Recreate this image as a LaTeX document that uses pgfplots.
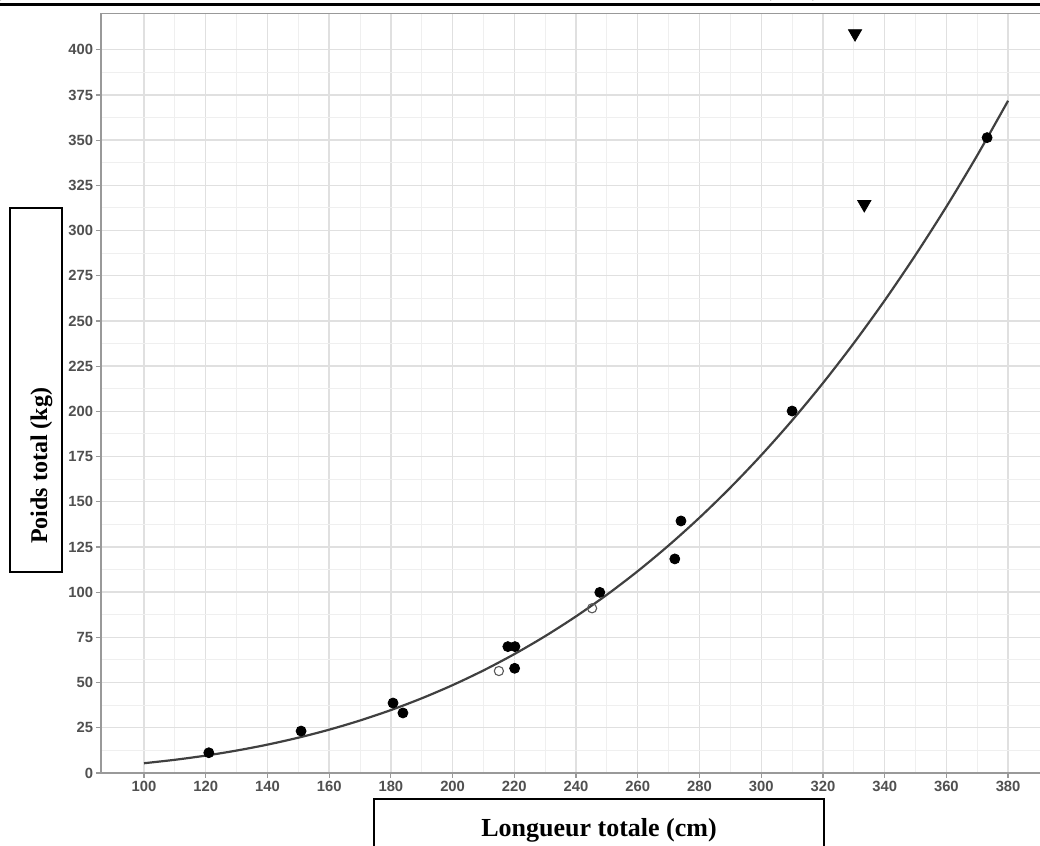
\documentclass[border=0pt]{standalone}
\usepackage{pgfplots}
\pgfplotsset{compat=1.18}
\usepackage{fontspec}
\setmainfont{Liberation Serif}
\newfontfamily\ticksfont{Liberation Sans}
\definecolor{tickgray}{HTML}{505050}
\definecolor{axgray}{HTML}{999999}
\definecolor{majgrid}{HTML}{E0E0E0}
\definecolor{mingrid}{HTML}{EFEFEF}
\definecolor{curvecol}{HTML}{404040}
\begin{document}
\begin{tikzpicture}
\clip (0,0) rectangle (520pt,423pt);
\begin{axis}[
  at={(50.4pt,36.5pt)}, anchor=south west,
  scale only axis, width=475.25pt, height=379.7pt,
  xmin=86, xmax=394, ymin=0, ymax=420,
  xtick={100,120,...,380}, ytick={0,25,...,400},
  minor x tick num=1, minor y tick num=1,
  grid=both,
  major grid style={majgrid, line width=0.7pt},
  minor grid style={mingrid, line width=0.5pt},
  axis line style={axgray, line width=0.9pt},
  tick style={axgray, line width=0.6pt},
  minor tick length=0pt,
  major tick length=2.5pt,
  tick align=outside,
  xtick pos=bottom, ytick pos=left,
  /pgf/number format/assume math mode=true,
  /pgf/number format/1000 sep={},
  ticklabel style={font=\ticksfont\bfseries\fontsize{7.4}{8}\selectfont, text=tickgray},
  xticklabel style={yshift=1.8pt},
  yticklabel style={xshift=2.2pt},
  clip=false,
]
\addplot[curvecol, line width=1.1pt, smooth] coordinates {
(100,5.40) (110,7.30) (120,9.62) (130,12.41) (140,15.69) (150,19.53)
(160,23.96) (170,29.04) (180,34.80) (190,41.31) (200,48.60) (210,56.73)
(220,65.75) (230,75.70) (240,86.64) (250,98.60) (260,111.65) (270,125.85)
(280,141.22) (290,157.84) (300,175.74) (310,194.99) (320,215.64) (330,237.74)
(340,261.33) (350,286.5) (360,313.2) (370,341.6) (380,371.8)};
\addplot[only marks, mark=*, mark size=2.5pt, black] coordinates {
(121,11.2) (150.9,23.2) (180.7,38.7) (183.9,33.2) (217.9,69.9) (220.2,69.9)
(220.1,57.9) (247.7,99.9) (272,118.4) (274,139.4) (310,200.2) (373.2,351.4)};
\addplot[only marks, mark=o, mark size=2.3pt, black!65, mark options={line width=0.55pt}] coordinates {
(215,56.4) (245.2,91.1)};
\addplot[only marks, mark=triangle*, mark size=3.8pt, black, mark options={rotate=180}] coordinates {
(330.4,409) (333.4,314.5)};
\end{axis}
% top rule
\draw[black, line width=1.5pt] (0,420.5pt) -- (520pt,420.5pt);
\node[anchor=base, inner sep=0pt, font=\fontsize{13}{15}\selectfont] at (2pt,425pt) {)};
\node[anchor=base, inner sep=0pt, font=\fontsize{13}{15}\selectfont] at (396pt,425pt) {(\hspace{20pt})};
% y label box
\draw[black, line width=1pt] (5pt,137pt) rectangle (31pt,319pt);
\node[rotate=90, anchor=base, inner sep=0pt, font=\bfseries\fontsize{12}{14}\selectfont] at (23.5pt,190pt) {Poids total (kg)};
% x label box
\draw[black, line width=1pt] (187pt,-7pt) rectangle (412pt,23.5pt);
\node[anchor=base, inner sep=0pt, font=\bfseries\fontsize{13}{15}\selectfont] at (299.5pt,4.65pt) {Longueur totale (cm)};
\end{tikzpicture}
\end{document}
